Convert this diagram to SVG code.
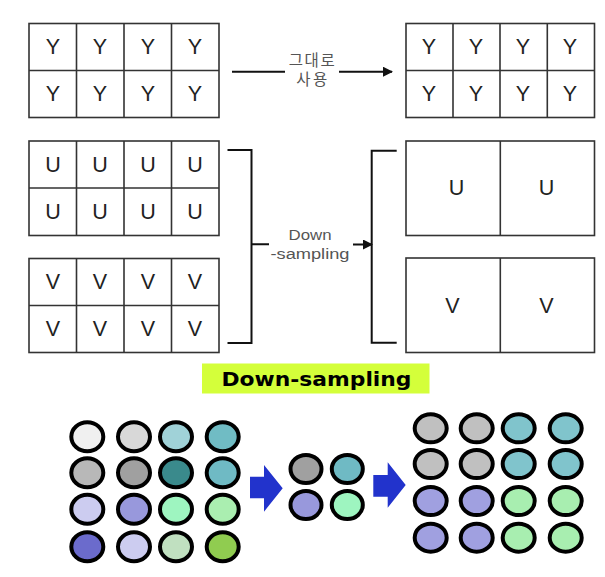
<svg xmlns="http://www.w3.org/2000/svg" width="605" height="577" viewBox="0 0 605 577">
<style>
.grid{fill:#fff;stroke:#333;stroke-width:1.6}
.gl{fill:none;stroke:#333;stroke-width:1.6}
.lt{font-family:"Liberation Sans",Arial,sans-serif;font-size:21.5px;fill:#222;text-anchor:middle}
.lbl{font-family:"Liberation Sans","Noto Sans CJK KR",sans-serif;font-size:15.5px;fill:#555;text-anchor:middle}
.con{fill:none;stroke:#111;stroke-width:2}
.px{stroke:#000;stroke-width:4}
.ba{fill:#2233cc}
</style>
<defs>
<marker id="ah" markerWidth="10" markerHeight="10" refX="9" refY="5" orient="auto" markerUnits="userSpaceOnUse">
<path d="M0,0 L10,5 L0,10 Z" fill="#111"/>
</marker>
</defs>
<rect width="605" height="577" fill="#fff"/>

<g id="y-grid-left">
<rect class="grid" x="29" y="23.5" width="190" height="94"/>
<path class="gl" d="M76.5,23.5V117.5M124,23.5V117.5M171.5,23.5V117.5M29,70.5H219"/>
<text class="lt" x="53" y="54">Y</text><text class="lt" x="100" y="54">Y</text><text class="lt" x="148" y="54">Y</text><text class="lt" x="195" y="54">Y</text>
<text class="lt" x="53" y="101">Y</text><text class="lt" x="100" y="101">Y</text><text class="lt" x="148" y="101">Y</text><text class="lt" x="195" y="101">Y</text>
</g>

<g id="y-grid-right">
<rect class="grid" x="406" y="23.5" width="188.5" height="94"/>
<path class="gl" d="M453,23.5V117.5M500,23.5V117.5M547.3,23.5V117.5M406,70.5H594.5"/>
<text class="lt" x="429" y="54">Y</text><text class="lt" x="476" y="54">Y</text><text class="lt" x="523" y="54">Y</text><text class="lt" x="570" y="54">Y</text>
<text class="lt" x="429" y="101">Y</text><text class="lt" x="476" y="101">Y</text><text class="lt" x="523" y="101">Y</text><text class="lt" x="570" y="101">Y</text>
</g>

<g id="u-grid-left">
<rect class="grid" x="29" y="141" width="190" height="94.5"/>
<path class="gl" d="M76.5,141V235.5M124,141V235.5M171.5,141V235.5M29,188H219"/>
<text class="lt" x="53" y="172">U</text><text class="lt" x="100" y="172">U</text><text class="lt" x="148" y="172">U</text><text class="lt" x="195" y="172">U</text>
<text class="lt" x="53" y="219">U</text><text class="lt" x="100" y="219">U</text><text class="lt" x="148" y="219">U</text><text class="lt" x="195" y="219">U</text>
</g>

<g id="v-grid-left">
<rect class="grid" x="29" y="258.5" width="190" height="94"/>
<path class="gl" d="M76.5,258.5V352.5M124,258.5V352.5M171.5,258.5V352.5M29,305.5H219"/>
<text class="lt" x="53" y="289">V</text><text class="lt" x="100" y="289">V</text><text class="lt" x="148" y="289">V</text><text class="lt" x="195" y="289">V</text>
<text class="lt" x="53" y="336">V</text><text class="lt" x="100" y="336">V</text><text class="lt" x="148" y="336">V</text><text class="lt" x="195" y="336">V</text>
</g>

<g id="u-grid-right">
<rect class="grid" x="406" y="141" width="188.5" height="94.5"/>
<path class="gl" d="M500.3,141V235.5"/>
<text class="lt" x="456.5" y="195">U</text><text class="lt" x="546.5" y="195">U</text>
</g>

<g id="v-grid-right">
<rect class="grid" x="406" y="258" width="188.5" height="94.5"/>
<path class="gl" d="M500.3,258V352.5"/>
<text class="lt" x="452.5" y="313">V</text><text class="lt" x="546.5" y="313">V</text>
</g>

<g id="connectors">
<path class="con" d="M232,71.7H285"/>
<path class="con" d="M339,71.7H392" marker-end="url(#ah)"/>
<text class="lbl" x="311.7" y="65.5" textLength="46" lengthAdjust="spacing">그대로</text>
<text class="lbl" x="311.7" y="85" textLength="31" lengthAdjust="spacing">사용</text>

<path class="con" d="M227.5,150H251.5V343H227.5M251.5,244.3H269"/>
<path class="con" d="M396.7,150.7H371.7V342.7H396.7"/>
<path class="con" d="M353,244.5H372" marker-end="url(#ah)"/>
<text class="lbl" x="310" y="239.5" font-size="16" textLength="43" lengthAdjust="spacingAndGlyphs">Down</text>
<text class="lbl" x="310" y="258.5" font-size="16" textLength="79" lengthAdjust="spacingAndGlyphs">-sampling</text>
</g>

<g id="title">
<rect x="202" y="363.5" width="227.5" height="30" fill="#d4ff3a"/>
<text x="316.5" y="386" font-family="'DejaVu Sans',Verdana,sans-serif" font-weight="bold" font-size="19" text-anchor="middle" textLength="190" lengthAdjust="spacingAndGlyphs" fill="#000">Down-sampling</text>
</g>

<g id="pixels-original">
<ellipse class="px" cx="87.3" cy="436.7" rx="16" ry="14.5" fill="#f0f0f0"/>
<ellipse class="px" cx="134" cy="436.7" rx="16" ry="14.5" fill="#d8d8d8"/>
<ellipse class="px" cx="176" cy="436.7" rx="16" ry="14.5" fill="#a0d2d8"/>
<ellipse class="px" cx="222.7" cy="436.7" rx="16" ry="14.5" fill="#70bcc4"/>
<ellipse class="px" cx="87.3" cy="472.7" rx="16" ry="14.5" fill="#b8b8b8"/>
<ellipse class="px" cx="134" cy="472.7" rx="16" ry="14.5" fill="#a0a0a0"/>
<ellipse class="px" cx="176" cy="472.7" rx="16" ry="14.5" fill="#3a8a8c"/>
<ellipse class="px" cx="222.7" cy="472.7" rx="16" ry="14.5" fill="#6fbac4"/>
<ellipse class="px" cx="87.3" cy="509.3" rx="16" ry="14.5" fill="#ccccf0"/>
<ellipse class="px" cx="134" cy="509.3" rx="16" ry="14.5" fill="#9898dc"/>
<ellipse class="px" cx="176" cy="509.3" rx="16" ry="14.5" fill="#9ef5c0"/>
<ellipse class="px" cx="222.7" cy="509.3" rx="16" ry="14.5" fill="#aaeeb0"/>
<ellipse class="px" cx="87.3" cy="546.7" rx="16" ry="14.5" fill="#6b6bcc"/>
<ellipse class="px" cx="134" cy="546.7" rx="16" ry="14.5" fill="#ccccf0"/>
<ellipse class="px" cx="176" cy="546.7" rx="16" ry="14.5" fill="#c0e0c0"/>
<ellipse class="px" cx="222.7" cy="546.7" rx="16" ry="14.5" fill="#90cc50"/>
</g>

<g id="arrow-1">
<path class="ba" d="M250,476.7H264V465L282.7,488.3L264,511.7V498.3H250Z"/>
</g>

<g id="pixels-sampled">
<ellipse class="px" cx="306" cy="469" rx="15.5" ry="14" fill="#a0a0a0"/>
<ellipse class="px" cx="347.3" cy="469" rx="15.5" ry="14" fill="#6fbac4"/>
<ellipse class="px" cx="306" cy="505" rx="15.5" ry="14" fill="#9898dc"/>
<ellipse class="px" cx="347.3" cy="505" rx="15.5" ry="14" fill="#9ef5c0"/>
</g>

<g id="arrow-2">
<path class="ba" d="M373.3,475H387.7V462.3L405.7,485L387.7,507.7V496.7H373.3Z"/>
</g>

<g id="pixels-upsampled">
<ellipse class="px" cx="430.7" cy="428.3" rx="16" ry="14" fill="#c0c0c0"/>
<ellipse class="px" cx="476.7" cy="428.3" rx="16" ry="14" fill="#c0c0c0"/>
<ellipse class="px" cx="518.7" cy="428.3" rx="16" ry="14" fill="#80c4cc"/>
<ellipse class="px" cx="565.7" cy="428.3" rx="16" ry="14" fill="#80c4cc"/>
<ellipse class="px" cx="430.7" cy="464" rx="16" ry="14" fill="#c0c0c0"/>
<ellipse class="px" cx="476.7" cy="464" rx="16" ry="14" fill="#c0c0c0"/>
<ellipse class="px" cx="518.7" cy="464" rx="16" ry="14" fill="#80c4cc"/>
<ellipse class="px" cx="565.7" cy="464" rx="16" ry="14" fill="#80c4cc"/>
<ellipse class="px" cx="430.7" cy="501" rx="16" ry="14" fill="#a0a0e0"/>
<ellipse class="px" cx="476.7" cy="501" rx="16" ry="14" fill="#a0a0e0"/>
<ellipse class="px" cx="518.7" cy="501" rx="16" ry="14" fill="#a8eeb0"/>
<ellipse class="px" cx="565.7" cy="501" rx="16" ry="14" fill="#a8eeb0"/>
<ellipse class="px" cx="430.7" cy="537.7" rx="16" ry="14" fill="#a0a0e0"/>
<ellipse class="px" cx="476.7" cy="537.7" rx="16" ry="14" fill="#a0a0e0"/>
<ellipse class="px" cx="518.7" cy="537.7" rx="16" ry="14" fill="#a8eeb0"/>
<ellipse class="px" cx="565.7" cy="537.7" rx="16" ry="14" fill="#a8eeb0"/>
</g>
</svg>
